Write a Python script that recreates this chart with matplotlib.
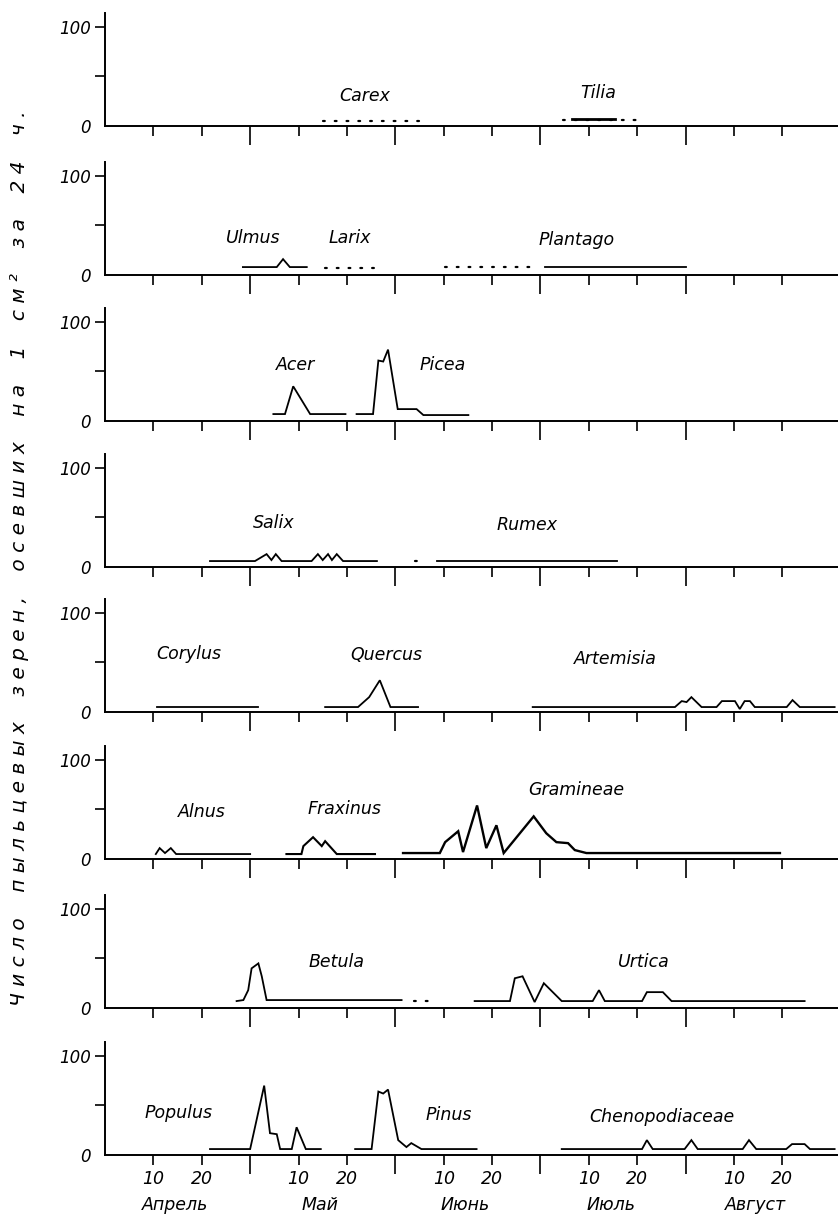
import matplotlib
matplotlib.use("Agg")
import matplotlib.pyplot as plt
from matplotlib.ticker import FixedLocator, NullFormatter

# x in days from 1 April, each month counted as 30 days (three 10-day periods)
# ── panel 1 ───────────────────────────────────────────────────────────────────
carex_x = [45, 65]
carex_y = [5, 5]
tilia_dot_x = [94.6, 107.8, 110]
tilia_dot_y = [6, 6, 6]
tilia_x = [96.5, 105.4]
tilia_y = [7, 7]

# ── panel 2 ───────────────────────────────────────────────────────────────────
ulmus_x = [28.5, 35.5, 36.8, 38.2, 41.7]
ulmus_y = [8, 8, 16, 8, 8]
larix_x = [45.5, 56]
larix_y = [7, 7]
plantago_dot_x = [70.2, 89.3]
plantago_dot_y = [8, 8]
plantago_x = [90.9, 120]
plantago_y = [8, 8]

# ── panel 3 ───────────────────────────────────────────────────────────────────
acer_x = [34.8, 37.2, 38.9, 42.4, 49.7]
acer_y = [7, 7, 35, 7, 7]
picea_x = [52, 55.4, 56.5, 57.5, 58.5, 60.5, 64.4, 65.8, 75.1]
picea_y = [7, 7, 61, 60, 72, 12, 12, 6, 6]

# ── panel 4 ───────────────────────────────────────────────────────────────────
salix_x = [21.7, 31, 33.4, 34.4, 35.3, 36.5, 42.7, 44, 45, 46.1, 46.9, 47.9, 49.2, 56.2]
salix_y = [6, 6, 13, 7, 13, 6, 6, 13, 7, 13, 7, 13, 6, 6]
rumex_dot_x = [64, 66]
rumex_dot_y = [6, 6]
rumex_x = [68.6, 105.8]
rumex_y = [6, 6]

# ── panel 5 ───────────────────────────────────────────────────────────────────
corylus_x = [10.7, 31.6]
corylus_y = [5, 5]
quercus_x = [45.5, 52.3, 54.6, 56.8, 59, 64.7]
quercus_y = [5, 5, 15, 32, 5, 5]
artemisia_x = [88.4, 117.8, 119.2, 120.2, 121.2, 123.3, 126.4, 127.5, 130.2,
               131.2, 132.2, 133.3, 134.3, 140.9, 142.1, 143.6, 150.8]
artemisia_y = [5, 5, 11, 10, 15, 5, 5, 11, 11, 3, 11, 11, 5, 5, 12, 5, 5]

# ── panel 6 ───────────────────────────────────────────────────────────────────
alnus_x = [10.5, 11.3, 12.4, 13.6, 14.7, 30]
alnus_y = [5, 11, 6, 11, 5, 5]
fraxinus_x = [37.5, 40.6, 41, 43, 44.8, 45.5, 47.9, 55.8]
fraxinus_y = [5, 5, 13, 22, 13, 18, 5, 5]
gramineae_x = [61.6, 69.2, 70.3, 73, 74, 76.9, 78.8, 80.9, 82.4, 88.6,
               91.2, 93.3, 95.7, 97.1, 99.5, 139.5]
gramineae_y = [6, 6, 17, 28, 7, 54, 11, 34, 6, 43, 26, 17, 16, 9, 6, 6]

# ── panel 7 ───────────────────────────────────────────────────────────────────
betula_x = [27.2, 28.6, 29.6, 30.3, 31.7, 32.4, 33.4, 61.3]
betula_y = [7, 8, 18, 40, 45, 32, 8, 8]
betula_dot_x = [63.8, 65.3, 66.8, 68.3]
betula_dot_y = [7, 7, 7, 7]
urtica_x = [76.4, 83.7, 84.7, 86.3, 88.8, 90.7, 94.4, 100.8, 102.1, 103.3,
            111, 112, 115.3, 117.1, 144.6]
urtica_y = [7, 7, 30, 32, 6, 25, 7, 7, 18, 7, 7, 16, 16, 7, 7]

# ── panel 8 ───────────────────────────────────────────────────────────────────
populus_x = [21.7, 30, 32.9, 34.1, 35.5, 36.2, 38.6, 39.6, 41.5, 44.6]
populus_y = [6, 6, 70, 22, 21, 6, 6, 28, 6, 6]
pinus_x = [51.7, 55.1, 56.5, 57.5, 58.5, 60.6, 62.3, 63.3, 65.4, 76.8]
pinus_y = [6, 6, 64, 62, 66, 15, 8, 12, 6, 6]
cheno_x = [94.4, 111, 112, 113.2, 119.8, 121.2, 122.5, 131.8, 133.1, 134.6,
           140.8, 142, 144.6, 145.7, 150.8]
cheno_y = [6, 6, 15, 6, 6, 15, 6, 6, 15, 6, 6, 11, 11, 6, 6]

MONTHS = ["Апрель", "Май", "Июнь", "Июль", "Август"]
MONTH_START = [0, 30, 60, 90, 120]
DECADE_TICKS = [10, 20, 40, 50, 70, 80, 100, 110, 130, 140]
DECADE_LABELS = ["10", "20"] * 5

# panels: (solid series, dotted series, labels (text, x, y))
panels = [
    ([(tilia_x, tilia_y, 2.0)],
     [(carex_x, carex_y), (tilia_dot_x, tilia_dot_y)],
     [("Carex", 53.7, 30), ("Tilia", 101.9, 33)]),
    ([(ulmus_x, ulmus_y, 1.3), (plantago_x, plantago_y, 1.3)],
     [(larix_x, larix_y), (plantago_dot_x, plantago_dot_y)],
     [("Ulmus", 30.6, 37), ("Larix", 50.6, 37), ("Plantago", 97.5, 35)]),
    ([(acer_x, acer_y, 1.3), (picea_x, picea_y, 1.3)], [],
     [("Acer", 39.3, 56), ("Picea", 69.8, 56)]),
    ([(salix_x, salix_y, 1.3), (rumex_x, rumex_y, 1.3)],
     [(rumex_dot_x, rumex_dot_y)],
     [("Salix", 34.9, 44), ("Rumex", 87.2, 42)]),
    ([(corylus_x, corylus_y, 1.3), (quercus_x, quercus_y, 1.3),
      (artemisia_x, artemisia_y, 1.3)], [],
     [("Corylus", 17.4, 59), ("Quercus", 58.2, 57), ("Artemisia", 105.5, 53)]),
    ([(alnus_x, alnus_y, 1.3), (fraxinus_x, fraxinus_y, 1.5),
      (gramineae_x, gramineae_y, 1.7)], [],
     [("Alnus", 20, 47), ("Fraxinus", 49.4, 50), ("Gramineae", 97.4, 70)]),
    ([(betula_x, betula_y, 1.3), (urtica_x, urtica_y, 1.3)],
     [(betula_dot_x, betula_dot_y)],
     [("Betula", 47.9, 46), ("Urtica", 111.4, 46)]),
    ([(populus_x, populus_y, 1.3), (pinus_x, pinus_y, 1.3), (cheno_x, cheno_y, 1.3)], [],
     [("Populus", 15.1, 42), ("Pinus", 71.1, 40), ("Chenopodiaceae", 115.1, 38)]),
]

W, H = 838, 1214
ZERO_PX = [126, 275, 421, 567, 712, 859, 1008, 1155]
AX_H = 113
LEFT_PX = 105

plt.rcParams["font.family"] = ["DejaVu Sans"]
fig = plt.figure(figsize=(W / 100, H / 100), dpi=100)

for i, (solid, dotted, labels) in enumerate(panels):
    ax = fig.add_axes([LEFT_PX / W, 1 - ZERO_PX[i] / H, (W - LEFT_PX) / W, AX_H / H])
    for x, y, lw in solid:
        ax.plot(x, y, color="black", lw=lw, solid_joinstyle="miter")
    for x, y in dotted:
        ax.plot(x, y, color="black", lw=1.6, ls=(0, (0.8, 4.5)), dash_capstyle="round")
    for txt, tx, ty in labels:
        ax.text(tx, ty, txt, ha="center", va="center", fontsize=12.5, style="italic")

    ax.set_xlim(0, 151.5)
    ax.set_ylim(0, 114)
    for s in ("top", "right"):
        ax.spines[s].set_visible(False)
    for s in ("left", "bottom"):
        ax.spines[s].set_linewidth(1.4)

    ax.set_yticks([0, 50, 100])
    ax.set_yticklabels(["0", "", "100"], fontsize=12, style="italic")
    ax.tick_params(axis="y", direction="out", length=7, width=1.2, pad=3)
    ax.yaxis.get_major_ticks()[0].tick1line.set_visible(False)

    ax.xaxis.set_major_locator(FixedLocator([30, 60, 90, 120]))
    ax.xaxis.set_major_formatter(NullFormatter())
    ax.xaxis.set_minor_locator(FixedLocator(DECADE_TICKS))
    ax.tick_params(axis="x", which="major", direction="out", length=14, width=1.2)
    ax.tick_params(axis="x", which="minor", direction="out", length=7, width=1.2, pad=4)
    if i == len(panels) - 1:
        ax.set_xticks(DECADE_TICKS, DECADE_LABELS, minor=True, fontsize=12.5, style="italic")
        for m, start in zip(MONTHS, MONTH_START):
            ax.text(start + 14.5, -50, m, ha="center", va="center",
                    fontsize=12.5, style="italic", clip_on=False)
    else:
        ax.xaxis.set_minor_formatter(NullFormatter())

ylabel_words = ["Число", "пыльцевых", "зерен,", "осевших", "на", "1", "см²", "за", "24", "ч."]
ylabel = "    ".join(" ".join(w) for w in ylabel_words)
fig.text(20 / W, 1 - 558 / H, ylabel, rotation=90, ha="center", va="center",
         fontsize=14.5, style="italic")

fig.savefig("out.png", dpi=100)
